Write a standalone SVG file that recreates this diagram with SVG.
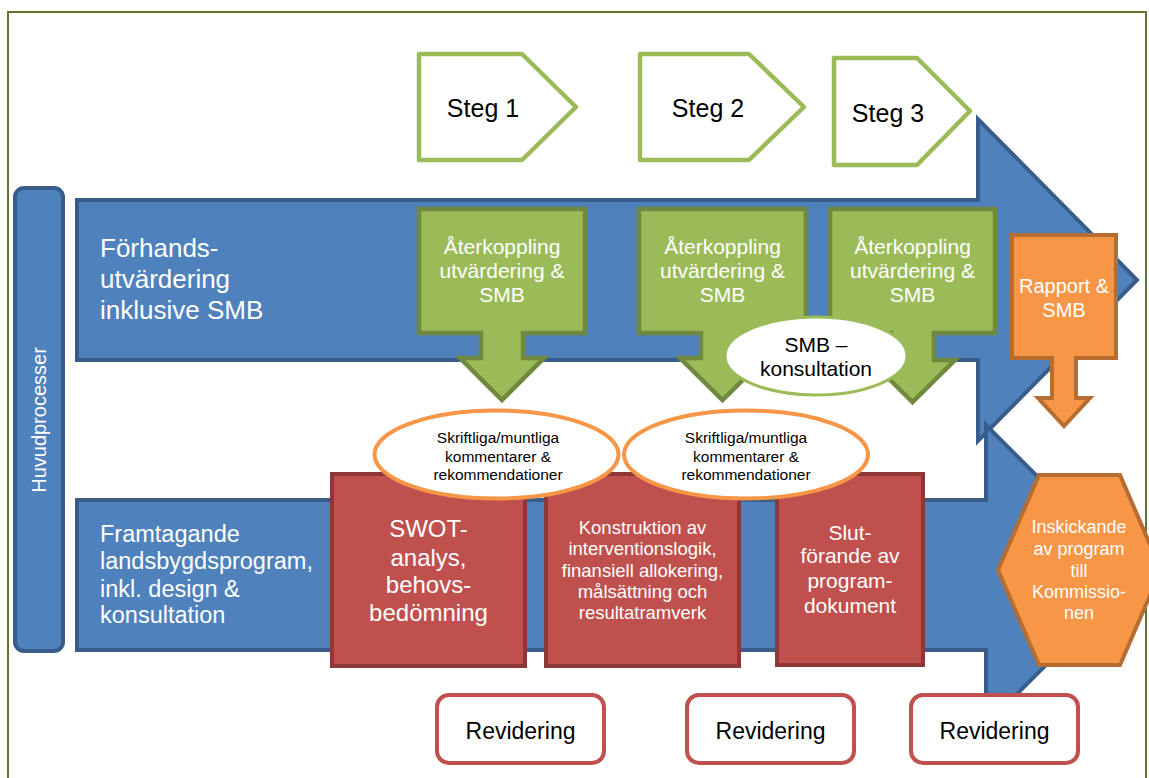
<svg xmlns="http://www.w3.org/2000/svg" width="1149" height="778" viewBox="0 0 1149 778">
  <style>
    text { font-family: "Liberation Sans", Arial, sans-serif; text-anchor: middle; }
    .frame { fill: none; stroke: #5f7530; stroke-width: 2; }
    .blue { fill: #4f81bd; stroke: #385d8a; stroke-width: 4; stroke-linejoin: miter; }
    .green { fill: #9bbb59; stroke: #71893f; stroke-width: 4.5; stroke-linejoin: miter; }
    .step { fill: #ffffff; stroke: #9bbb59; stroke-width: 4.5; stroke-linejoin: round; }
    .orange { fill: #f79646; stroke: #b66d31; stroke-width: 4; stroke-linejoin: miter; }
    .red { fill: #c0504d; stroke: #8c3836; stroke-width: 4; }
    .oval { fill: #ffffff; stroke: #f79646; stroke-width: 4; }
    .smb { fill: #ffffff; stroke: #9bbb59; stroke-width: 3; }
    .rev { fill: #ffffff; stroke: #c0504d; stroke-width: 4; }
    .w { fill: #ffffff; }
    .k { fill: #000000; }
    .lbl { text-anchor: start; }
  </style>

  <!-- outer frame -->
  <rect class="frame" x="8" y="12" width="1138" height="800"/>

  <!-- vertical side label -->
  <g id="huvudprocesser">
    <rect class="blue" x="15" y="188" width="48" height="463" rx="9"/>
    <text class="w" x="39" y="420" font-size="20" transform="rotate(-90 39 420)" dy="7">Huvudprocesser</text>
  </g>

  <!-- process arrows -->
  <g id="arrow-forhand">
    <path class="blue" d="M77,200 L978,200 L978,119 L1137,280 L978,441 L978,360 L77,360 Z"/>
    <text class="w lbl" font-size="26"><tspan x="100" y="257">Förhands-</tspan><tspan x="100" y="288">utvärdering</tspan><tspan x="100" y="319">inklusive SMB</tspan></text>
  </g>
  <g id="arrow-framtagande">
    <path class="blue" d="M77,500 L986,500 L986,425 L1136,575 L986,725 L986,650 L77,650 Z"/>
    <text class="w lbl" font-size="23.5"><tspan x="100" y="542">Framtagande</tspan><tspan x="100" y="569">landsbygdsprogram,</tspan><tspan x="100" y="597">inkl. design &amp;</tspan><tspan x="100" y="623">konsultation</tspan></text>
  </g>

  <!-- feedback callouts -->
  <g id="aterkoppling-1">
    <path class="green" d="M419,209 L585,209 L585,333 L523,333 L523,358 L544,358 L502,400 L460,358 L481,358 L481,333 L419,333 Z"/>
    <text class="w" font-size="21"><tspan x="502" y="254">Återkoppling</tspan><tspan x="502" y="278">utvärdering &amp;</tspan><tspan x="502" y="302">SMB</tspan></text>
  </g>
  <g id="aterkoppling-2">
    <path class="green" d="M639,209 L806,209 L806,333 L744,333 L744,358 L765,358 L722.5,400 L680,358 L701,358 L701,333 L639,333 Z"/>
    <text class="w" font-size="21"><tspan x="722.5" y="254">Återkoppling</tspan><tspan x="722.5" y="278">utvärdering &amp;</tspan><tspan x="722.5" y="302">SMB</tspan></text>
  </g>
  <g id="aterkoppling-3">
    <path class="green" d="M830,209 L995,209 L995,333 L934,333 L934,360 L955,360 L912.5,402 L870,360 L891,360 L891,333 L830,333 Z"/>
    <text class="w" font-size="21"><tspan x="912.5" y="254">Återkoppling</tspan><tspan x="912.5" y="278">utvärdering &amp;</tspan><tspan x="912.5" y="302">SMB</tspan></text>
  </g>

  <g id="smb-konsultation">
    <ellipse class="smb" cx="816" cy="356" rx="91" ry="39"/>
    <text class="k" font-size="21"><tspan x="816" y="352">SMB –</tspan><tspan x="816" y="376">konsultation</tspan></text>
  </g>

  <g id="rapport">
    <path class="orange" d="M1012,235 L1116,235 L1116,358 L1076,358 L1076,398 L1090,398 L1064,426 L1038,398 L1052,398 L1052,358 L1012,358 Z"/>
    <text class="w" font-size="20"><tspan x="1064" y="293">Rapport &amp;</tspan><tspan x="1064" y="317">SMB</tspan></text>
  </g>

  <!-- work packages -->
  <g id="swot">
    <rect class="red" x="332" y="474" width="193" height="192"/>
    <text class="w" font-size="24"><tspan x="428.5" y="537">SWOT-</tspan><tspan x="428.5" y="566">analys,</tspan><tspan x="428.5" y="593">behovs-</tspan><tspan x="428.5" y="621">bedömning</tspan></text>
  </g>
  <g id="konstruktion">
    <rect class="red" x="546" y="474" width="193" height="192"/>
    <text class="w" font-size="18.5"><tspan x="642.5" y="534">Konstruktion av</tspan><tspan x="642.5" y="555">interventionslogik,</tspan><tspan x="642.5" y="577">finansiell allokering,</tspan><tspan x="642.5" y="598">målsättning och</tspan><tspan x="642.5" y="619">resultatramverk</tspan></text>
  </g>
  <g id="slutforande">
    <rect class="red" x="777" y="474" width="146" height="191"/>
    <text class="w" font-size="21"><tspan x="850" y="540">Slut-</tspan><tspan x="850" y="563">förande av</tspan><tspan x="850" y="588">program-</tspan><tspan x="850" y="613">dokument</tspan></text>
  </g>

  <!-- written / oral comments -->
  <g id="kommentarer-1">
    <ellipse class="oval" cx="496.5" cy="454.5" rx="122" ry="44"/>
    <text class="k" font-size="15.5"><tspan x="498" y="443">Skriftliga/muntliga</tspan><tspan x="498" y="462">kommentarer &amp;</tspan><tspan x="498" y="480">rekommendationer</tspan></text>
  </g>
  <g id="kommentarer-2">
    <ellipse class="oval" cx="746" cy="454.5" rx="122" ry="44"/>
    <text class="k" font-size="15.5"><tspan x="746" y="443">Skriftliga/muntliga</tspan><tspan x="746" y="462">kommentarer &amp;</tspan><tspan x="746" y="480">rekommendationer</tspan></text>
  </g>

  <g id="inskickande">
    <path class="orange" d="M998,570 L1039,475 L1120,475 L1161,570 L1120,665 L1039,665 Z"/>
    <text class="w" font-size="18"><tspan x="1079" y="533">Inskickande</tspan><tspan x="1079" y="555">av program</tspan><tspan x="1079" y="577">till</tspan><tspan x="1079" y="598">Kommissio-</tspan><tspan x="1079" y="619">nen</tspan></text>
  </g>

  <!-- revision boxes -->
  <g id="revidering-1">
    <rect class="rev" x="437" y="695" width="167" height="68" rx="12"/>
    <text class="k" x="520.5" y="739" font-size="23">Revidering</text>
  </g>
  <g id="revidering-2">
    <rect class="rev" x="687" y="695" width="167" height="68" rx="12"/>
    <text class="k" x="770.5" y="739" font-size="23">Revidering</text>
  </g>
  <g id="revidering-3">
    <rect class="rev" x="911" y="695" width="167" height="68" rx="12"/>
    <text class="k" x="994.5" y="739" font-size="23">Revidering</text>
  </g>

  <!-- steps -->
  <g id="steg-1">
    <path class="step" d="M419,54 L522,54 L576,107 L522,160 L419,160 Z"/>
    <text class="k" x="483" y="117" font-size="25">Steg 1</text>
  </g>
  <g id="steg-2">
    <path class="step" d="M640,54 L749,54 L804,107 L749,160 L640,160 Z"/>
    <text class="k" x="708" y="117" font-size="25">Steg 2</text>
  </g>
  <g id="steg-3">
    <path class="step" d="M834,58 L917,58 L970,111 L917,165 L834,165 Z"/>
    <text class="k" x="888" y="122" font-size="25">Steg 3</text>
  </g>

  <g id="connectors"></g>
</svg>
